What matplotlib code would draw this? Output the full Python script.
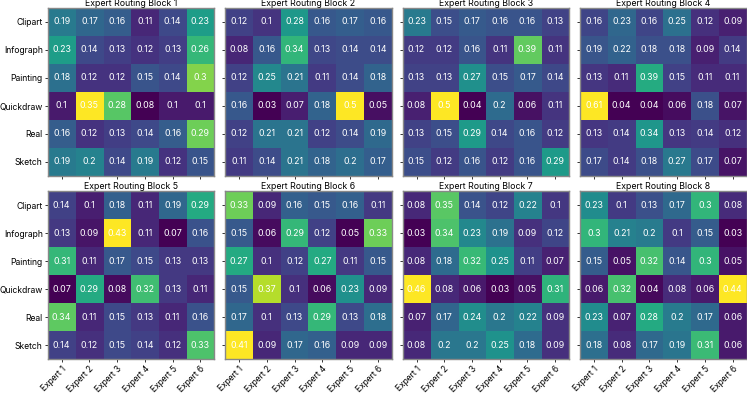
import matplotlib
matplotlib.use("Agg")
import matplotlib.pyplot as plt
import numpy as np

plt.rcParams['font.family'] = ['Inter', 'DejaVu Sans']

domains = ["Clipart", "Infograph", "Painting", "Quickdraw", "Real", "Sketch"]
experts = ["Expert 1", "Expert 2", "Expert 3", "Expert 4", "Expert 5", "Expert 6"]

block1 = [[.19, .17, .16, .11, .14, .23],
          [.23, .14, .13, .12, .13, .26],
          [.18, .12, .12, .15, .14, .30],
          [.10, .35, .28, .08, .10, .10],
          [.16, .12, .13, .14, .16, .29],
          [.19, .20, .14, .19, .12, .15]]
block2 = [[.12, .10, .28, .16, .17, .16],
          [.08, .16, .34, .13, .14, .14],
          [.12, .25, .21, .11, .14, .18],
          [.16, .03, .07, .18, .50, .05],
          [.12, .21, .21, .12, .14, .19],
          [.11, .14, .21, .18, .20, .17]]
block3 = [[.23, .15, .17, .16, .16, .13],
          [.12, .12, .16, .11, .39, .11],
          [.13, .13, .27, .15, .17, .14],
          [.08, .50, .04, .20, .06, .11],
          [.13, .15, .29, .14, .16, .12],
          [.15, .12, .16, .12, .16, .29]]
block4 = [[.16, .23, .16, .25, .12, .09],
          [.19, .22, .18, .18, .09, .14],
          [.13, .11, .39, .15, .11, .11],
          [.61, .04, .04, .06, .18, .07],
          [.13, .14, .34, .13, .14, .12],
          [.17, .14, .18, .27, .17, .07]]
block5 = [[.14, .10, .18, .11, .19, .29],
          [.13, .09, .43, .11, .07, .16],
          [.31, .11, .17, .15, .13, .13],
          [.07, .29, .08, .32, .13, .11],
          [.34, .11, .15, .13, .11, .16],
          [.14, .12, .15, .14, .12, .33]]
block6 = [[.33, .09, .16, .15, .16, .11],
          [.15, .06, .29, .12, .05, .33],
          [.27, .10, .12, .27, .11, .15],
          [.15, .37, .10, .06, .23, .09],
          [.17, .10, .13, .29, .13, .18],
          [.41, .09, .17, .16, .09, .09]]
block7 = [[.08, .35, .14, .12, .22, .10],
          [.03, .34, .23, .19, .09, .12],
          [.08, .18, .32, .25, .11, .07],
          [.46, .08, .06, .03, .05, .31],
          [.07, .17, .24, .20, .22, .09],
          [.08, .20, .20, .25, .18, .09]]
block8 = [[.23, .10, .13, .17, .30, .08],
          [.30, .21, .20, .10, .15, .03],
          [.15, .05, .32, .14, .30, .05],
          [.06, .32, .04, .08, .06, .44],
          [.23, .07, .28, .20, .17, .06],
          [.18, .08, .17, .19, .31, .06]]

blocks = [block1, block2, block3, block4, block5, block6, block7, block8]

fig, axes = plt.subplots(2, 4, figsize=(7.47, 3.94), dpi=100)
fig.subplots_adjust(left=47.8/747, right=746.5/747, top=1-8/394, bottom=1-359/394,
                    wspace=0.066, hspace=0.095)

for i, (ax, data) in enumerate(zip(axes.flat, blocks)):
    arr = np.array(data)
    ax.imshow(arr, cmap='viridis', aspect='auto')
    for r in range(arr.shape[0]):
        for c in range(arr.shape[1]):
            ax.text(c, r, f"{arr[r, c]:g}", ha='center', va='center',
                    color='white', fontsize=6.4)
    ax.set_title(f"Expert Routing Block {i + 1}", fontsize=6.3, pad=1.5)
    ax.set_xticks(range(len(experts)))
    ax.set_yticks(range(len(domains)))
    if i >= 4:
        ax.set_xticklabels(experts, rotation=45, ha='right', rotation_mode='anchor',
                           fontsize=6.1)
    else:
        ax.set_xticklabels([])
    if i % 4 == 0:
        ax.set_yticklabels(domains, fontsize=6.2)
    else:
        ax.set_yticklabels([])
    ax.tick_params(length=2.5, width=0.7, color='#333333', pad=1.2)
    for s in ax.spines.values():
        s.set_color('#888888')
        s.set_linewidth(1.0)

fig.savefig("out.png", dpi=100)
